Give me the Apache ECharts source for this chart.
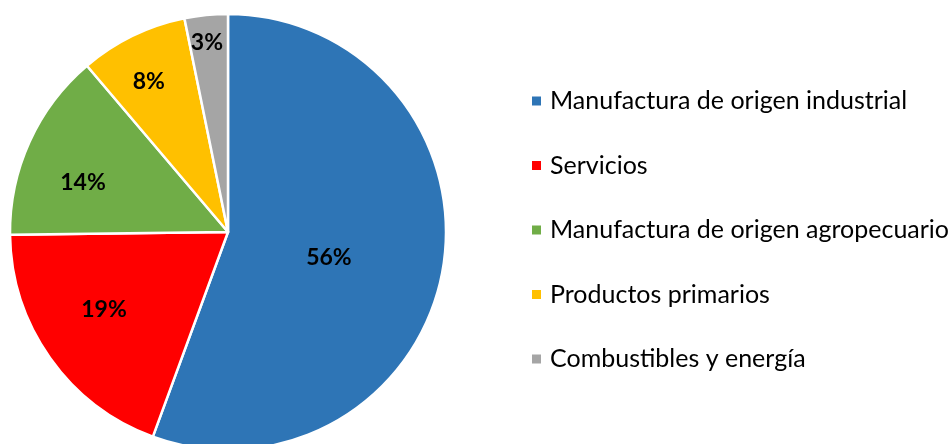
<!DOCTYPE html>
<html>
<head>
<meta charset="utf-8">
<script src="https://cdn.jsdelivr.net/npm/echarts@6/dist/echarts.min.js"></script>
<style>
html,body{margin:0;padding:0;background:#fff;}
#c{width:952px;height:444px;}
</style>
</head>
<body>
<div id="c"></div>
<script>
const categories = ['Manufactura de origen industrial','Servicios','Manufactura de origen agropecuario','Productos primarios','Combustibles y energía'];
const values = [55.6, 19.2, 14.0, 8.0, 3.2];
const colors = ['#2E75B6','#FF0000','#70AD47','#FFC000','#A5A5A5'];

const C = [228, 232];
const R = 218;
// label placement: radius fraction and angular nudge (deg) relative to slice middle
const labelRadiusFrac = [0.478, 0.672, 0.702, 0.778, 0.872];
const labelAngleNudge = [4.3, 3.1, -5.8, -1.9, -0.6];

const chart = echarts.init(document.getElementById('c'), null, {renderer:'canvas'});
chart.setOption({
  animation: false,
  backgroundColor: '#fff',
  color: colors,
  legend: {
    orient: 'vertical',
    left: 525,
    top: 82,
    icon: 'rect',
    itemWidth: 11,
    itemHeight: 11,
    itemGap: 36.5,
    data: categories,
    textStyle: {fontFamily: 'Lato', fontSize: 25, color: '#000', lineHeight: 28, padding:[0,0,0,3]}
  },
  series: [{
    type: 'pie',
    center: C,
    radius: R,
    startAngle: 90,
    clockwise: true,
    avoidLabelOverlap: false,
    itemStyle: {borderColor: '#fff', borderWidth: 2.5},
    label: {
      show: true,
      position: 'inside',
      fontFamily: 'Lato',
      fontWeight: 'bold',
      fontSize: 23,
      color: '#000',
      formatter: p => Math.round(p.percent) + '%'
    },
    labelLine: {show: false},
    labelLayout: function (p) {
      const r = p.labelRect;
      const cx = r.x + r.width / 2, cy = r.y + r.height / 2;
      let a = Math.atan2(cx - C[0], -(cy - C[1])) + labelAngleNudge[p.dataIndex] * Math.PI / 180;
      const rr = labelRadiusFrac[p.dataIndex] * R;
      const tx = C[0] + rr * Math.sin(a), ty = C[1] - rr * Math.cos(a);
      return {dx: tx - cx, dy: ty - cy};
    },
    emphasis: {disabled: true},
    data: categories.map((n, i) => ({name: n, value: values[i]}))
  }]
});
</script>
</body>
</html>
